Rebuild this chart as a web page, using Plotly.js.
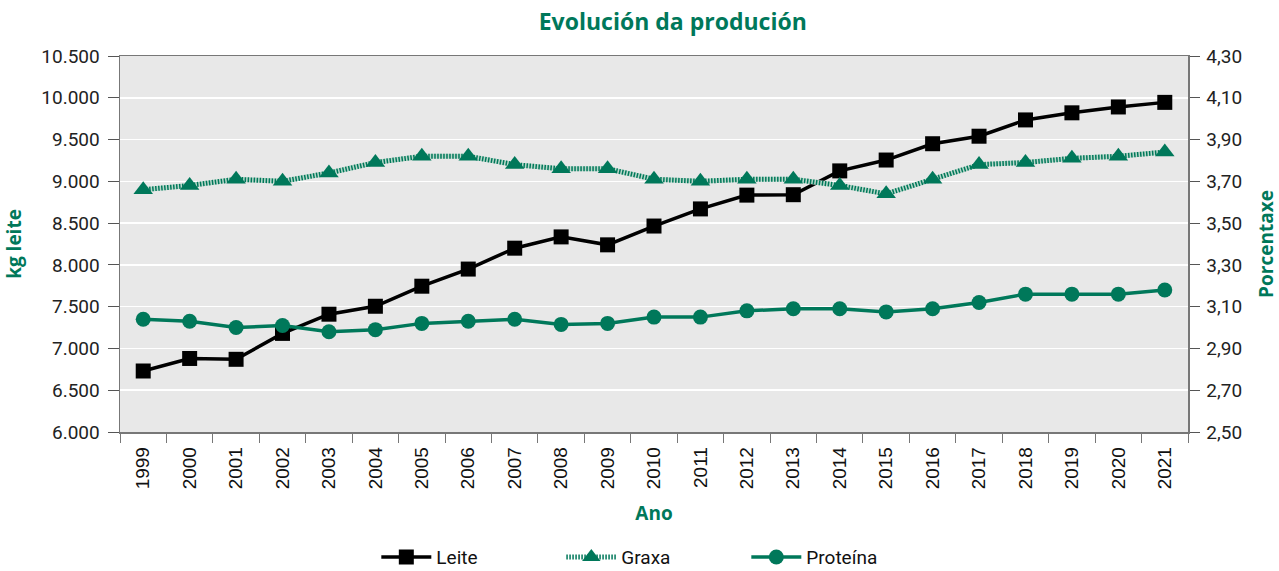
<!DOCTYPE html>
<html><head><meta charset="utf-8">
<script src="https://cdn.plot.ly/plotly-3.0.1.min.js"></script>
<style>html,body{margin:0;padding:0;background:#fff}</style>
</head><body><div id="chart" style="width:1279px;height:571px"></div>
<script>
const years = ['1999','2000','2001','2002','2003','2004','2005','2006','2007','2008','2009','2010','2011','2012','2013','2014','2015','2016','2017','2018','2019','2020','2021'];
const leite = [6730,6880,6870,7180,7410,7505,7745,7950,8200,8335,8240,8465,8670,8835,8840,9125,9255,9450,9540,9735,9820,9890,9945];
const graxa = [3.66,3.68,3.71,3.70,3.74,3.79,3.82,3.82,3.78,3.76,3.76,3.71,3.70,3.71,3.71,3.68,3.64,3.71,3.78,3.79,3.81,3.82,3.84];
const proteina = [3.04,3.03,3.00,3.01,2.98,2.99,3.02,3.03,3.04,3.015,3.02,3.05,3.05,3.08,3.09,3.09,3.075,3.09,3.12,3.16,3.16,3.16,3.18];
const leftTicks = [6000,6500,7000,7500,8000,8500,9000,9500,10000,10500];
const rightTicks = [2.5,2.7,2.9,3.1,3.3,3.5,3.7,3.9,4.1,4.3];

const GREEN = '#00785A';
const TITLEFONT = 'Open Sans, sans-serif';

const data = [
  {x: years, y: proteina, yaxis: 'y2', name: 'Proteína', type: 'scatter', mode: 'lines+markers',
   line: {color: GREEN, width: 3.5}, marker: {symbol: 'circle', size: 15, color: GREEN}, legendrank: 3},
  {x: years, y: graxa, yaxis: 'y2', name: 'Graxa_bg', type: 'scatter', mode: 'lines', showlegend: false, hoverinfo: 'skip',
   line: {color: '#b9d8cb', width: 5}},
  {x: years, y: graxa, yaxis: 'y2', name: 'Graxa', type: 'scatter', mode: 'lines+markers',
   line: {color: GREEN, width: 5, dash: '1.5px,1.5px'}, marker: {symbol: 'triangle-up', size: 17, color: GREEN}, legendrank: 2},
  {x: years, y: leite, yaxis: 'y', name: 'Leite', type: 'scatter', mode: 'lines+markers',
   line: {color: '#000', width: 3.5}, marker: {symbol: 'square', size: 15, color: '#000'}, legendrank: 1}
];

const layout = {
  width: 1279, height: 571,
  margin: {l: 120, r: 91, t: 56, b: 139, autoexpand: false},
  paper_bgcolor: '#fff', plot_bgcolor: '#e8e8e8',
  separators: ',.',
  font: {family: 'Roboto, sans-serif', size: 19, color: '#222'},
  title: {text: '<b>Evolución da produción</b>', x: 0.526, xanchor: 'center', y: 0.962, yanchor: 'middle',
          font: {family: TITLEFONT, size: 23, color: GREEN}},
  xaxis: {type: 'category', tickson: 'boundaries', ticks: 'outside', ticklen: 9, tickcolor: '#777', tickwidth: 1,
          ticklabelstandoff: 6,
          showline: true, linecolor: '#777', linewidth: 1.5, mirror: true, showgrid: false, automargin: false,
          tickangle: -90, tickfont: {family: 'Liberation Sans, Arial, sans-serif', size: 19, color: '#111'},
          title: {text: '<b>Ano</b>', font: {family: TITLEFONT, size: 19, color: GREEN}, standoff: 18},
          range: [-0.5, 22.5]},
  yaxis: {range: [6000, 10500], tickvals: leftTicks, tickformat: ',d', ticks: 'outside', ticklen: 11, tickcolor: '#555',
          ticklabelstandoff: 4,
          showline: true, linecolor: '#777', linewidth: 1.5, gridcolor: '#fff', gridwidth: 1.5, zeroline: false, automargin: false,
          title: {text: '<b>kg leite</b>', font: {family: TITLEFONT, size: 19, color: GREEN}, standoff: 14}},
  yaxis2: {overlaying: 'y', side: 'right', range: [2.5, 4.3], tickvals: rightTicks, tickformat: '.2f', ticks: 'outside',
           ticklen: 10, tickcolor: '#555', ticklabelstandoff: 3,
           showline: true, linecolor: '#777', linewidth: 1.5, showgrid: false, zeroline: false, automargin: false,
           title: {text: '<b>Porcentaxe</b>', font: {family: TITLEFONT, size: 19, color: GREEN}, standoff: 30}},
  legend: {orientation: 'h', x: 0.24, xanchor: 'left', y: -0.333, yanchor: 'middle', itemwidth: 50, entrywidth: 120,
           font: {family: 'Roboto, sans-serif', size: 19, color: '#111'}, traceorder: 'normal'},
  showlegend: true
};

Plotly.newPlot('chart', data, layout, {displayModeBar: false, staticPlot: true});
</script></body></html>
